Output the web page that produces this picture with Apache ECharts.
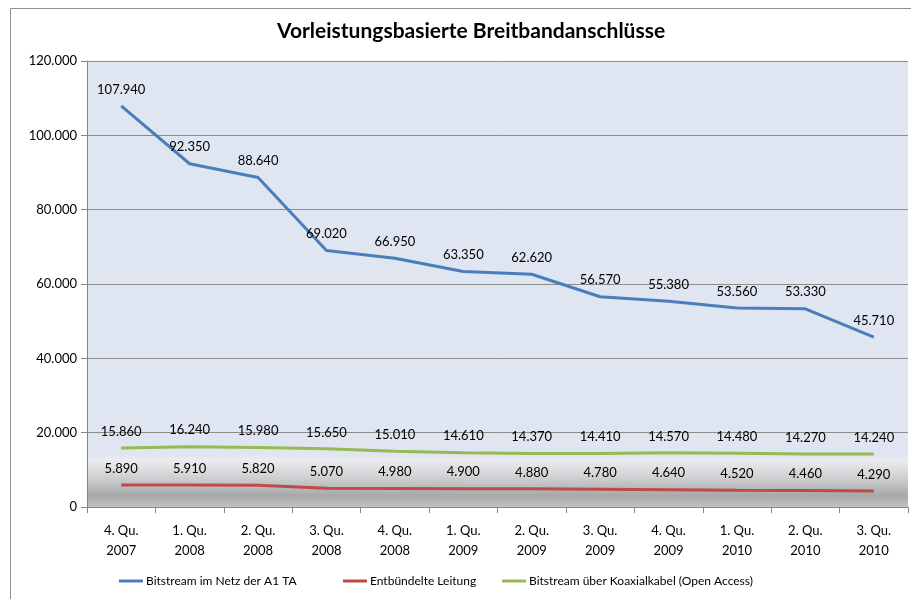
<!DOCTYPE html>
<html lang="de">
<head>
    <meta charset="UTF-8">
    <title>Vorleistungsbasierte Breitbandanschlüsse</title>
    <script src="https://cdn.jsdelivr.net/npm/echarts@6/dist/echarts.min.js"></script>
    <style>
        html, body { margin: 0; padding: 0; background: #fff; }
        #chart { width: 911px; height: 599px; }
    </style>
</head>
<body>
    <div id="chart"></div>
    <script>
        // Daten
        var quartale = ['4. Qu.\n2007', '1. Qu.\n2008', '2. Qu.\n2008', '3. Qu.\n2008', '4. Qu.\n2008', '1. Qu.\n2009',
                        '2. Qu.\n2009', '3. Qu.\n2009', '4. Qu.\n2009', '1. Qu.\n2010', '2. Qu.\n2010', '3. Qu.\n2010'];
        var bitstreamA1 = [107940, 92350, 88640, 69020, 66950, 63350, 62620, 56570, 55380, 53560, 53330, 45710];
        var entbuendelt = [5890, 5910, 5820, 5070, 4980, 4900, 4880, 4780, 4640, 4520, 4460, 4290];
        var koaxial = [15860, 16240, 15980, 15650, 15010, 14610, 14370, 14410, 14570, 14480, 14270, 14240];
        var seriesNames = ['Bitstream im Netz der A1 TA', 'Entbündelte Leitung', 'Bitstream über Koaxialkabel (Open Access)'];

        var font = 'Lato, "Open Sans", sans-serif';

        // 1.234 statt 1,234
        function fmt(v) {
            return String(Math.round(v)).replace(/\B(?=(\d{3})+(?!\d))/g, '.');
        }

        function line(name, data, color) {
            return {
                name: name,
                type: 'line',
                data: data,
                symbol: 'circle',
                symbolSize: 0,
                showSymbol: true,
                lineStyle: { color: color, width: 3 },
                itemStyle: { color: color },
                label: {
                    show: true,
                    position: 'top',
                    distance: 10,
                    color: '#000',
                    fontFamily: font,
                    fontSize: 13,
                    formatter: function (p) { return fmt(p.value); }
                },
                z: 3
            };
        }

        // eine Legende pro Eintrag, damit die Abstände wie im Original sind
        function legend(name, left) {
            return {
                bottom: 7,
                left: left,
                itemWidth: 24,
                itemHeight: 3,
                itemGap: 3,
                icon: 'rect',
                textStyle: { fontFamily: font, fontSize: 12, color: '#000', padding: [0, 0, 0, -2] },
                data: [name]
            };
        }

        var myChart = echarts.init(document.getElementById('chart'));
        var option = {
            backgroundColor: '#fff',
            animation: false,
            title: {
                text: 'Vorleistungsbasierte Breitbandanschlüsse',
                left: 272,
                top: 16,
                textStyle: { fontFamily: font, fontSize: 21, fontWeight: 'bold', color: '#000' }
            },
            graphic: [{
                type: 'rect',
                shape: { x: 10.5, y: 8.5, width: 920, height: 620 },
                style: { fill: 'none', stroke: '#8e8e8e', lineWidth: 1 },
                silent: true
            }],
            legend: [
                legend(seriesNames[0], 114),
                legend(seriesNames[1], 338),
                legend(seriesNames[2], 497)
            ],
            grid: {
                left: 87,
                right: 3,
                top: 61,
                bottom: 92,
                show: true,
                borderWidth: 0,
                backgroundColor: {
                    type: 'linear', x: 0, y: 0, x2: 0, y2: 1,
                    colorStops: [
                        { offset: 0, color: '#dfe6f2' },
                        { offset: 0.882, color: '#dfe6f2' },
                        { offset: 0.895, color: '#eaecef' },
                        { offset: 0.93, color: '#d2d3d5' },
                        { offset: 0.975, color: '#a6a8aa' },
                        { offset: 1, color: '#c2c3c4' }
                    ]
                }
            },
            xAxis: {
                type: 'category',
                data: quartale,
                boundaryGap: true,
                axisLine: { lineStyle: { color: '#868686' } },
                axisTick: { show: true, length: 6, lineStyle: { color: '#868686' } },
                axisLabel: {
                    color: '#000',
                    fontFamily: font,
                    fontSize: 13,
                    lineHeight: 20,
                    margin: 14,
                    interval: 0
                }
            },
            yAxis: {
                type: 'value',
                min: 0,
                max: 120000,
                interval: 20000,
                axisLine: { show: true, lineStyle: { color: '#868686' } },
                axisTick: { show: true, length: 6, lineStyle: { color: '#868686' } },
                splitLine: { lineStyle: { color: '#8c8c8c', width: 1 } },
                axisLabel: {
                    color: '#000',
                    fontFamily: font,
                    fontSize: 13,
                    margin: 10,
                    formatter: function (v) { return fmt(v); }
                }
            },
            series: [
                line(seriesNames[0], bitstreamA1, '#4a7ebb'),
                line(seriesNames[1], entbuendelt, '#be4b48'),
                line(seriesNames[2], koaxial, '#98b954')
            ]
        };
        myChart.setOption(option);
    </script>
</body>
</html>
